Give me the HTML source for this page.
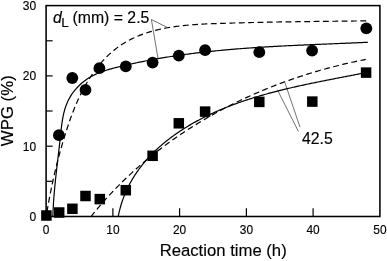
<!DOCTYPE html>
<html><head><meta charset="utf-8"><style>
html,body{margin:0;padding:0;background:#fff;}
svg{display:block;font-family:"Liberation Sans",sans-serif;}
text{stroke:#000;stroke-width:0.15px;}
</style></head><body>
<svg width="387" height="261" viewBox="0 0 387 261">
<rect width="387" height="261" fill="#fff"/>
<rect x="46.1" y="5.6" width="333.8" height="210.9" fill="none" stroke="#000" stroke-width="1.55"/>
<line x1="112.9" y1="216.5" x2="112.9" y2="208.3" stroke="#000" stroke-width="1.2"/>
<line x1="179.6" y1="216.5" x2="179.6" y2="208.3" stroke="#000" stroke-width="1.2"/>
<line x1="246.4" y1="216.5" x2="246.4" y2="208.3" stroke="#000" stroke-width="1.2"/>
<line x1="313.1" y1="216.5" x2="313.1" y2="208.3" stroke="#000" stroke-width="1.2"/>
<line x1="46.1" y1="181.3" x2="52.6" y2="181.3" stroke="#000" stroke-width="1.2"/>
<line x1="46.1" y1="146.2" x2="52.6" y2="146.2" stroke="#000" stroke-width="1.2"/>
<line x1="46.1" y1="111.0" x2="52.6" y2="111.0" stroke="#000" stroke-width="1.2"/>
<line x1="46.1" y1="75.9" x2="52.6" y2="75.9" stroke="#000" stroke-width="1.2"/>
<line x1="46.1" y1="40.8" x2="52.6" y2="40.8" stroke="#000" stroke-width="1.2"/>
<g style="will-change:transform;filter:grayscale(1)">
<text x="46.1" y="234.3" font-size="11.9" text-anchor="middle">0</text>
<text x="112.9" y="234.3" font-size="11.9" text-anchor="middle">10</text>
<text x="179.6" y="234.3" font-size="11.9" text-anchor="middle">20</text>
<text x="246.4" y="234.3" font-size="11.9" text-anchor="middle">30</text>
<text x="313.1" y="234.3" font-size="11.9" text-anchor="middle">40</text>
<text x="379.9" y="234.3" font-size="11.9" text-anchor="middle">50</text>
<text x="36.2" y="220.5" font-size="12" text-anchor="end">0</text>
<text x="36.2" y="150.5" font-size="12" text-anchor="end">10</text>
<text x="36.2" y="80.2" font-size="12" text-anchor="end">20</text>
<text x="36.2" y="9.9" font-size="12" text-anchor="end">30</text>
<text x="223.2" y="255.8" font-size="16.7" text-anchor="middle">Reaction time (h)</text>
<text transform="translate(12.9,110.7) rotate(-90) scale(1,0.96)" font-size="16.8" text-anchor="middle">WPG (%)</text>
</g>
<path d="M52.82,216.52 L52.88,215.03 L52.93,213.56 L52.99,212.08 L53.06,210.61 L53.13,209.15 L53.21,207.69 L53.29,206.23 L53.38,204.78 L53.47,203.32 L53.56,201.88 L53.66,200.43 L53.76,198.99 L53.87,197.55 L53.98,196.12 L54.10,194.68 L54.22,193.25 L54.34,191.82 L54.47,190.39 L54.60,188.97 L54.73,187.54 L54.87,186.12 L55.00,184.70 L55.14,183.28 L55.29,181.86 L55.43,180.45 L55.58,179.03 L55.73,177.61 L55.89,176.20 L56.04,174.78 L56.20,173.37 L56.35,171.95 L56.51,170.54 L56.67,169.12 L56.84,167.71 L57.00,166.29 L57.16,164.88 L57.33,163.46 L57.49,162.04 L57.66,160.62 L57.83,159.20 L57.99,157.78 L58.16,156.36 L58.33,154.93 L58.49,153.50 L58.66,152.07 L58.83,150.64 L58.99,149.21 L59.16,147.77 L59.32,146.34 L59.48,144.89 L59.65,143.45 L59.81,142.00 L59.97,140.55 L60.13,139.10 L60.28,137.64 L60.44,136.18 L60.59,134.72 L60.75,133.25 L60.90,131.78 L61.07,130.31 L61.23,128.85 L61.41,127.38 L61.59,125.91 L61.78,124.45 L61.98,122.99 L62.20,121.54 L62.43,120.09 L62.67,118.65 L62.94,117.21 L63.22,115.78 L63.53,114.36 L63.85,112.96 L64.20,111.56 L64.58,110.17 L64.98,108.79 L65.41,107.43 L65.87,106.08 L66.36,104.75 L66.89,103.43 L67.45,102.13 L68.04,100.84 L68.67,99.58 L69.34,98.33 L70.04,97.10 L70.77,95.89 L71.53,94.70 L72.33,93.53 L73.15,92.38 L74.01,91.25 L74.90,90.14 L75.81,89.06 L76.75,88.00 L77.72,86.97 L78.72,85.95 L79.74,84.97 L80.78,84.01 L81.85,83.07 L82.94,82.16 L84.05,81.28 L85.19,80.43 L86.35,79.60 L87.52,78.80 L88.72,78.03 L89.93,77.29 L91.16,76.58 L92.41,75.90 L93.67,75.25 L94.95,74.63 L96.24,74.03 L97.55,73.45 L98.87,72.90 L100.20,72.37 L101.55,71.87 L102.90,71.38 L104.26,70.91 L105.64,70.46 L107.02,70.02 L108.40,69.60 L109.80,69.19 L111.20,68.80 L112.60,68.41 L114.01,68.04 L115.43,67.67 L116.84,67.31 L118.26,66.96 L119.68,66.62 L121.10,66.27 L122.52,65.94 L123.94,65.60 L125.36,65.27 L126.78,64.95 L128.20,64.62 L129.62,64.30 L131.04,63.99 L132.46,63.67 L133.88,63.37 L135.31,63.06 L136.73,62.76 L138.15,62.46 L139.57,62.17 L140.99,61.88 L142.42,61.59 L143.84,61.31 L145.26,61.03 L146.69,60.75 L148.11,60.47 L149.53,60.20 L150.96,59.94 L152.38,59.67 L153.81,59.41 L155.23,59.15 L156.66,58.90 L158.08,58.65 L159.51,58.40 L160.93,58.16 L162.36,57.91 L163.78,57.68 L165.21,57.44 L166.64,57.21 L168.06,56.98 L169.49,56.75 L170.92,56.53 L172.34,56.31 L173.77,56.09 L175.20,55.87 L176.63,55.66 L178.05,55.45 L179.48,55.25 L180.91,55.04 L182.34,54.84 L183.77,54.64 L185.20,54.45 L186.63,54.25 L188.06,54.06 L189.49,53.87 L190.92,53.69 L192.35,53.51 L193.78,53.33 L195.21,53.15 L196.64,52.97 L198.07,52.80 L199.50,52.63 L200.93,52.46 L202.36,52.30 L203.79,52.13 L205.22,51.97 L206.66,51.81 L208.09,51.66 L209.52,51.50 L210.95,51.35 L212.38,51.20 L213.82,51.05 L215.25,50.91 L216.68,50.76 L218.12,50.62 L219.55,50.48 L220.98,50.35 L222.42,50.21 L223.85,50.08 L225.29,49.95 L226.72,49.82 L228.15,49.69 L229.59,49.56 L231.02,49.44 L232.46,49.32 L233.89,49.20 L235.33,49.08 L236.76,48.96 L238.20,48.85 L239.64,48.73 L241.07,48.62 L242.51,48.51 L243.94,48.40 L245.38,48.30 L246.82,48.19 L248.25,48.09 L249.69,47.99 L251.13,47.89 L252.56,47.79 L254.00,47.69 L255.44,47.59 L256.88,47.50 L258.31,47.40 L259.75,47.31 L261.19,47.22 L262.63,47.13 L264.07,47.04 L265.51,46.95 L266.94,46.87 L268.38,46.78 L269.82,46.70 L271.26,46.62 L272.70,46.53 L274.14,46.45 L275.58,46.38 L277.02,46.30 L278.46,46.22 L279.90,46.14 L281.34,46.07 L282.78,45.99 L284.22,45.92 L285.66,45.85 L287.10,45.77 L288.54,45.70 L289.98,45.63 L291.42,45.56 L292.86,45.49 L294.31,45.43 L295.75,45.36 L297.19,45.29 L298.63,45.22 L300.07,45.16 L301.51,45.09 L302.96,45.03 L304.40,44.96 L305.84,44.90 L307.28,44.84 L308.73,44.78 L310.17,44.71 L311.61,44.65 L313.05,44.59 L314.50,44.53 L315.94,44.47 L317.38,44.41 L318.83,44.35 L320.27,44.29 L321.71,44.23 L323.16,44.17 L324.60,44.11 L326.04,44.05 L327.49,43.99 L328.93,43.93 L330.38,43.87 L331.82,43.81 L333.27,43.75 L334.71,43.69 L336.15,43.64 L337.60,43.58 L339.04,43.52 L340.49,43.46 L341.93,43.40 L343.38,43.34 L344.82,43.28 L346.27,43.22 L347.72,43.16 L349.16,43.10 L350.61,43.04 L352.05,42.97 L353.50,42.91 L354.94,42.85 L356.39,42.79 L357.84,42.72 L359.28,42.66 L360.73,42.60 L362.17,42.53 L363.62,42.47 L365.07,42.40 L366.51,42.34 L367.96,42.27" fill="none" stroke="#000" stroke-width="1.2"/>
<path d="M46.48,214.97 L46.72,213.52 L46.95,212.06 L47.19,210.61 L47.43,209.16 L47.68,207.71 L47.93,206.27 L48.18,204.82 L48.44,203.37 L48.70,201.92 L48.96,200.48 L49.23,199.04 L49.50,197.59 L49.78,196.15 L50.05,194.71 L50.34,193.27 L50.62,191.83 L50.91,190.39 L51.20,188.95 L51.50,187.52 L51.80,186.08 L52.10,184.65 L52.41,183.21 L52.72,181.78 L53.03,180.35 L53.35,178.92 L53.67,177.49 L53.99,176.06 L54.32,174.63 L54.65,173.20 L54.99,171.78 L55.33,170.35 L55.67,168.93 L56.02,167.50 L56.37,166.08 L56.72,164.66 L57.08,163.24 L57.44,161.82 L57.81,160.40 L58.18,158.98 L58.55,157.56 L58.92,156.15 L59.31,154.73 L59.69,153.32 L60.08,151.90 L60.47,150.49 L60.86,149.08 L61.26,147.67 L61.67,146.26 L62.07,144.85 L62.48,143.44 L62.90,142.04 L63.32,140.63 L63.74,139.23 L64.16,137.82 L64.59,136.42 L65.03,135.02 L65.46,133.62 L65.90,132.22 L66.35,130.82 L66.80,129.42 L67.26,128.02 L67.72,126.63 L68.18,125.23 L68.65,123.84 L69.13,122.45 L69.61,121.07 L70.10,119.68 L70.59,118.30 L71.09,116.92 L71.60,115.54 L72.11,114.16 L72.64,112.79 L73.17,111.42 L73.70,110.05 L74.25,108.69 L74.80,107.33 L75.36,105.97 L75.93,104.62 L76.51,103.27 L77.10,101.92 L77.70,100.58 L78.30,99.24 L78.92,97.91 L79.55,96.58 L80.18,95.25 L80.83,93.93 L81.49,92.61 L82.16,91.30 L82.84,89.99 L83.53,88.69 L84.23,87.39 L84.95,86.10 L85.67,84.82 L86.41,83.54 L87.16,82.26 L87.93,80.99 L88.70,79.73 L89.49,78.47 L90.30,77.22 L91.11,75.98 L91.94,74.74 L92.79,73.51 L93.64,72.30 L94.51,71.09 L95.39,69.89 L96.29,68.70 L97.20,67.52 L98.12,66.35 L99.06,65.20 L100.01,64.06 L100.97,62.93 L101.94,61.81 L102.93,60.71 L103.94,59.62 L104.95,58.55 L105.98,57.50 L107.03,56.46 L108.08,55.43 L109.15,54.42 L110.24,53.44 L111.34,52.46 L112.45,51.51 L113.57,50.58 L114.71,49.66 L115.86,48.77 L117.02,47.89 L118.20,47.03 L119.38,46.19 L120.57,45.38 L121.78,44.58 L123.00,43.80 L124.22,43.04 L125.45,42.31 L126.70,41.59 L127.95,40.89 L129.21,40.21 L130.49,39.55 L131.77,38.91 L133.05,38.29 L134.35,37.68 L135.66,37.09 L136.97,36.52 L138.29,35.97 L139.62,35.43 L140.95,34.91 L142.30,34.40 L143.65,33.91 L145.01,33.44 L146.37,32.98 L147.74,32.54 L149.12,32.11 L150.50,31.70 L151.89,31.30 L153.29,30.92 L154.69,30.54 L156.10,30.19 L157.51,29.84 L158.93,29.51 L160.36,29.19 L161.78,28.88 L163.22,28.59 L164.66,28.30 L166.10,28.03 L167.55,27.77 L169.00,27.52 L170.45,27.28 L171.91,27.05 L173.37,26.83 L174.84,26.62 L176.31,26.42 L177.78,26.23 L179.26,26.04 L180.74,25.87 L182.22,25.71 L183.70,25.55 L185.19,25.40 L186.67,25.26 L188.16,25.12 L189.65,24.99 L191.15,24.87 L192.64,24.75 L194.14,24.64 L195.63,24.54 L197.13,24.44 L198.63,24.35 L200.13,24.26 L201.63,24.18 L203.13,24.10 L204.63,24.02 L206.13,23.95 L207.63,23.88 L209.12,23.82 L210.62,23.76 L212.12,23.70 L213.62,23.64 L215.11,23.59 L216.61,23.54 L218.10,23.48 L219.59,23.43 L221.08,23.38 L222.57,23.34 L224.05,23.29 L225.53,23.24 L227.02,23.20 L228.50,23.15 L229.98,23.11 L231.45,23.06 L232.93,23.02 L234.40,22.98 L235.87,22.94 L237.35,22.90 L238.82,22.86 L240.28,22.82 L241.75,22.78 L243.22,22.74 L244.68,22.70 L246.14,22.67 L247.61,22.63 L249.07,22.59 L250.53,22.56 L251.99,22.52 L253.44,22.49 L254.90,22.46 L256.36,22.43 L257.81,22.39 L259.27,22.36 L260.72,22.33 L262.17,22.30 L263.63,22.27 L265.08,22.24 L266.53,22.21 L267.98,22.18 L269.43,22.16 L270.88,22.13 L272.33,22.10 L273.78,22.08 L275.23,22.05 L276.68,22.02 L278.12,22.00 L279.57,21.97 L281.02,21.95 L282.47,21.93 L283.91,21.90 L285.36,21.88 L286.81,21.86 L288.26,21.83 L289.70,21.81 L291.15,21.79 L292.60,21.77 L294.05,21.75 L295.50,21.73 L296.95,21.71 L298.40,21.69 L299.85,21.67 L301.30,21.65 L302.75,21.63 L304.20,21.61 L305.65,21.59 L307.10,21.57 L308.56,21.55 L310.01,21.53 L311.46,21.51 L312.92,21.50 L314.38,21.48 L315.83,21.46 L317.29,21.44 L318.75,21.42 L320.21,21.41 L321.67,21.39 L323.13,21.37 L324.60,21.36 L326.06,21.34 L327.53,21.32 L328.99,21.31 L330.46,21.29 L331.93,21.27 L333.40,21.26 L334.87,21.24 L336.35,21.22 L337.82,21.21 L339.30,21.19 L340.78,21.17 L342.26,21.16 L343.74,21.14 L345.22,21.12 L346.71,21.11 L348.20,21.09 L349.69,21.07 L351.18,21.06 L352.67,21.04 L354.16,21.02 L355.66,21.01 L357.16,20.99 L358.66,20.97 L360.17,20.95 L361.67,20.94 L363.18,20.92 L364.69,20.90 L366.20,20.88" fill="none" stroke="#000" stroke-width="1.2" stroke-dasharray="5.85,3.5" stroke-dashoffset="6.18"/>
<path d="M118.25,216.37 L118.46,215.31 L118.68,214.26 L118.91,213.21 L119.14,212.16 L119.39,211.12 L119.64,210.09 L119.90,209.06 L120.17,208.04 L120.45,207.02 L120.74,206.01 L121.03,205.01 L121.34,204.00 L121.65,203.01 L121.97,202.02 L122.30,201.03 L122.64,200.05 L122.99,199.08 L123.34,198.11 L123.70,197.14 L124.07,196.18 L124.45,195.23 L124.84,194.28 L125.23,193.34 L125.63,192.40 L126.04,191.46 L126.46,190.53 L126.88,189.61 L127.32,188.69 L127.76,187.78 L128.20,186.87 L128.66,185.97 L129.12,185.07 L129.59,184.18 L130.06,183.29 L130.54,182.40 L131.03,181.53 L131.53,180.65 L132.04,179.78 L132.55,178.92 L133.06,178.06 L133.59,177.21 L134.12,176.36 L134.66,175.51 L135.20,174.68 L135.75,173.84 L136.31,173.01 L136.87,172.19 L137.44,171.37 L138.02,170.55 L138.60,169.74 L139.19,168.94 L139.79,168.13 L140.39,167.34 L140.99,166.55 L141.61,165.76 L142.23,164.98 L142.85,164.20 L143.48,163.43 L144.12,162.66 L144.76,161.90 L145.41,161.14 L146.06,160.39 L146.72,159.64 L147.38,158.89 L148.05,158.15 L148.73,157.42 L149.41,156.68 L150.09,155.96 L150.78,155.24 L151.48,154.52 L152.18,153.80 L152.88,153.10 L153.59,152.39 L154.31,151.69 L155.03,151.00 L155.76,150.31 L156.48,149.62 L157.22,148.94 L157.96,148.26 L158.70,147.59 L159.45,146.92 L160.20,146.25 L160.96,145.59 L161.72,144.94 L162.48,144.29 L163.25,143.64 L164.03,143.00 L164.80,142.36 L165.58,141.73 L166.37,141.09 L167.16,140.47 L167.95,139.85 L168.75,139.23 L169.55,138.62 L170.35,138.01 L171.16,137.40 L171.97,136.80 L172.79,136.21 L173.61,135.61 L174.43,135.03 L175.25,134.44 L176.08,133.86 L176.91,133.29 L177.75,132.71 L178.58,132.15 L179.42,131.58 L180.27,131.02 L181.11,130.47 L181.96,129.91 L182.82,129.37 L183.67,128.82 L184.53,128.28 L185.39,127.75 L186.25,127.22 L187.12,126.69 L187.98,126.16 L188.85,125.64 L189.73,125.13 L190.60,124.61 L191.48,124.10 L192.36,123.60 L193.24,123.10 L194.12,122.60 L195.01,122.11 L195.89,121.62 L196.78,121.13 L197.67,120.65 L198.57,120.17 L199.46,119.70 L200.36,119.23 L201.26,118.76 L202.16,118.30 L203.06,117.84 L203.96,117.38 L204.87,116.93 L205.77,116.48 L206.68,116.03 L207.59,115.59 L208.50,115.15 L209.42,114.71 L210.33,114.28 L211.25,113.85 L212.17,113.43 L213.09,113.01 L214.01,112.59 L214.93,112.17 L215.85,111.76 L216.78,111.35 L217.71,110.95 L218.64,110.54 L219.57,110.14 L220.50,109.75 L221.43,109.36 L222.37,108.97 L223.30,108.58 L224.24,108.20 L225.18,107.81 L226.12,107.44 L227.06,107.06 L228.00,106.69 L228.95,106.32 L229.89,105.96 L230.84,105.59 L231.78,105.23 L232.73,104.88 L233.68,104.52 L234.63,104.17 L235.59,103.82 L236.54,103.48 L237.49,103.13 L238.45,102.79 L239.41,102.45 L240.36,102.12 L241.32,101.79 L242.28,101.46 L243.24,101.13 L244.21,100.80 L245.17,100.48 L246.13,100.16 L247.10,99.84 L248.06,99.53 L249.03,99.22 L250.00,98.91 L250.97,98.60 L251.94,98.29 L252.91,97.99 L253.88,97.69 L254.85,97.39 L255.82,97.09 L256.80,96.80 L257.77,96.51 L258.75,96.22 L259.72,95.93 L260.70,95.65 L261.68,95.36 L262.65,95.08 L263.63,94.80 L264.61,94.53 L265.59,94.25 L266.57,93.98 L267.55,93.71 L268.54,93.44 L269.52,93.17 L270.50,92.91 L271.49,92.65 L272.47,92.39 L273.45,92.13 L274.44,91.87 L275.42,91.61 L276.41,91.36 L277.40,91.11 L278.38,90.86 L279.37,90.61 L280.36,90.36 L281.35,90.12 L282.34,89.87 L283.32,89.63 L284.31,89.39 L285.30,89.15 L286.29,88.91 L287.28,88.68 L288.27,88.44 L289.26,88.21 L290.25,87.98 L291.24,87.75 L292.24,87.52 L293.23,87.29 L294.22,87.06 L295.21,86.84 L296.20,86.62 L297.19,86.39 L298.18,86.17 L299.18,85.95 L300.17,85.73 L301.16,85.52 L302.15,85.30 L303.14,85.09 L304.14,84.87 L305.13,84.66 L306.12,84.45 L307.11,84.24 L308.10,84.03 L309.10,83.82 L310.09,83.61 L311.08,83.40 L312.07,83.20 L313.06,82.99 L314.05,82.79 L315.04,82.58 L316.03,82.38 L317.02,82.18 L318.02,81.98 L319.00,81.78 L319.99,81.58 L320.98,81.38 L321.97,81.18 L322.96,80.98 L323.95,80.79 L324.94,80.59 L325.93,80.39 L326.91,80.20 L327.90,80.00 L328.89,79.81 L329.87,79.62 L330.86,79.42 L331.84,79.23 L332.83,79.04 L333.81,78.85 L334.79,78.65 L335.78,78.46 L336.76,78.27 L337.74,78.08 L338.72,77.89 L339.70,77.70 L340.68,77.51 L341.66,77.32 L342.64,77.13 L343.62,76.94 L344.59,76.75 L345.57,76.56 L346.55,76.37 L347.52,76.19 L348.50,76.00 L349.47,75.81 L350.44,75.62 L351.41,75.43 L352.38,75.24 L353.36,75.05 L354.32,74.86 L355.29,74.67 L356.26,74.48 L357.23,74.29 L358.19,74.10 L359.16,73.91 L360.12,73.72 L361.08,73.53 L362.05,73.34 L363.01,73.15 L363.97,72.96" fill="none" stroke="#000" stroke-width="1.2"/>
<path d="M91.45,216.02 L92.13,215.17 L92.81,214.32 L93.49,213.48 L94.18,212.64 L94.87,211.80 L95.56,210.96 L96.25,210.12 L96.95,209.29 L97.65,208.46 L98.35,207.63 L99.05,206.80 L99.75,205.98 L100.46,205.16 L101.17,204.34 L101.88,203.52 L102.59,202.70 L103.31,201.89 L104.02,201.08 L104.74,200.27 L105.47,199.46 L106.19,198.66 L106.92,197.86 L107.64,197.06 L108.37,196.26 L109.11,195.46 L109.84,194.67 L110.58,193.88 L111.32,193.09 L112.06,192.30 L112.80,191.52 L113.55,190.74 L114.29,189.96 L115.04,189.18 L115.80,188.40 L116.55,187.63 L117.30,186.86 L118.06,186.09 L118.82,185.32 L119.58,184.56 L120.35,183.80 L121.11,183.04 L121.88,182.28 L122.65,181.52 L123.42,180.77 L124.20,180.02 L124.97,179.27 L125.75,178.52 L126.53,177.78 L127.31,177.04 L128.09,176.30 L128.88,175.56 L129.67,174.82 L130.46,174.09 L131.25,173.36 L132.04,172.63 L132.84,171.90 L133.63,171.18 L134.43,170.45 L135.23,169.73 L136.04,169.02 L136.84,168.30 L137.65,167.59 L138.45,166.87 L139.26,166.17 L140.08,165.46 L140.89,164.75 L141.71,164.05 L142.52,163.35 L143.34,162.65 L144.16,161.96 L144.99,161.26 L145.81,160.57 L146.64,159.88 L147.47,159.19 L148.30,158.51 L149.13,157.82 L149.96,157.14 L150.80,156.47 L151.64,155.79 L152.47,155.12 L153.32,154.44 L154.16,153.77 L155.00,153.11 L155.85,152.44 L156.69,151.78 L157.54,151.12 L158.40,150.46 L159.25,149.80 L160.10,149.15 L160.96,148.49 L161.82,147.84 L162.67,147.20 L163.54,146.55 L164.40,145.91 L165.26,145.27 L166.13,144.63 L167.00,143.99 L167.87,143.35 L168.74,142.72 L169.61,142.09 L170.48,141.46 L171.36,140.84 L172.23,140.21 L173.11,139.59 L173.99,138.97 L174.88,138.36 L175.76,137.74 L176.64,137.13 L177.53,136.52 L178.42,135.91 L179.31,135.30 L180.20,134.70 L181.09,134.10 L181.99,133.50 L182.88,132.90 L183.78,132.30 L184.68,131.71 L185.58,131.12 L186.48,130.53 L187.38,129.94 L188.28,129.36 L189.19,128.77 L190.10,128.19 L191.01,127.62 L191.92,127.04 L192.83,126.47 L193.74,125.89 L194.66,125.32 L195.57,124.76 L196.49,124.19 L197.41,123.63 L198.33,123.07 L199.25,122.51 L200.17,121.95 L201.09,121.40 L202.02,120.85 L202.95,120.30 L203.87,119.75 L204.80,119.20 L205.73,118.66 L206.67,118.12 L207.60,117.58 L208.53,117.04 L209.47,116.51 L210.41,115.98 L211.35,115.44 L212.29,114.92 L213.23,114.39 L214.17,113.87 L215.11,113.34 L216.06,112.82 L217.00,112.31 L217.95,111.79 L218.90,111.28 L219.85,110.77 L220.80,110.26 L221.75,109.75 L222.71,109.25 L223.66,108.74 L224.62,108.24 L225.57,107.75 L226.53,107.25 L227.49,106.76 L228.45,106.26 L229.41,105.78 L230.37,105.29 L231.34,104.80 L232.30,104.32 L233.27,103.84 L234.24,103.36 L235.20,102.88 L236.17,102.41 L237.14,101.94 L238.11,101.47 L239.09,101.00 L240.06,100.53 L241.04,100.07 L242.01,99.61 L242.99,99.15 L243.97,98.69 L244.94,98.23 L245.92,97.78 L246.91,97.33 L247.89,96.88 L248.87,96.44 L249.85,95.99 L250.84,95.55 L251.83,95.11 L252.81,94.67 L253.80,94.23 L254.79,93.80 L255.78,93.37 L256.77,92.94 L257.76,92.51 L258.75,92.09 L259.75,91.66 L260.74,91.24 L261.74,90.82 L262.73,90.41 L263.73,89.99 L264.73,89.58 L265.73,89.17 L266.73,88.76 L267.73,88.36 L268.73,87.95 L269.73,87.55 L270.74,87.15 L271.74,86.75 L272.74,86.36 L273.75,85.96 L274.76,85.57 L275.76,85.18 L276.77,84.80 L277.78,84.41 L278.79,84.03 L279.80,83.65 L280.81,83.27 L281.83,82.89 L282.84,82.52 L283.85,82.15 L284.87,81.78 L285.88,81.41 L286.90,81.04 L287.91,80.68 L288.93,80.32 L289.95,79.96 L290.97,79.60 L291.99,79.25 L293.01,78.90 L294.03,78.54 L295.05,78.20 L296.07,77.85 L297.10,77.50 L298.12,77.16 L299.14,76.82 L300.17,76.48 L301.19,76.15 L302.22,75.81 L303.25,75.48 L304.28,75.15 L305.30,74.83 L306.33,74.50 L307.36,74.18 L308.39,73.86 L309.42,73.54 L310.45,73.22 L311.48,72.90 L312.52,72.59 L313.55,72.28 L314.58,71.97 L315.62,71.67 L316.65,71.36 L317.69,71.06 L318.72,70.76 L319.76,70.46 L320.79,70.17 L321.83,69.87 L322.87,69.58 L323.91,69.29 L324.94,69.00 L325.98,68.72 L327.02,68.43 L328.06,68.15 L329.10,67.87 L330.14,67.60 L331.18,67.32 L332.22,67.05 L333.27,66.78 L334.31,66.51 L335.35,66.24 L336.40,65.98 L337.44,65.72 L338.48,65.46 L339.53,65.20 L340.57,64.94 L341.62,64.69 L342.66,64.44 L343.71,64.19 L344.75,63.94 L345.80,63.69 L346.85,63.45 L347.89,63.21 L348.94,62.97 L349.99,62.73 L351.04,62.50 L352.09,62.27 L353.14,62.03 L354.18,61.81 L355.23,61.58 L356.28,61.35 L357.33,61.13 L358.38,60.91 L359.43,60.69 L360.48,60.48 L361.53,60.26 L362.58,60.05 L363.64,59.84 L364.69,59.63 L365.74,59.43" fill="none" stroke="#000" stroke-width="1.2" stroke-dasharray="5.85,3.5" stroke-dashoffset="0.84"/>
<circle cx="58.9" cy="135.2" r="5.9" fill="#000"/>
<circle cx="72.3" cy="78.0" r="5.9" fill="#000"/>
<circle cx="85.5" cy="89.9" r="5.9" fill="#000"/>
<circle cx="99.4" cy="68.2" r="5.9" fill="#000"/>
<circle cx="125.8" cy="66.4" r="5.9" fill="#000"/>
<circle cx="152.6" cy="62.6" r="5.9" fill="#000"/>
<circle cx="178.8" cy="55.6" r="5.9" fill="#000"/>
<circle cx="205.1" cy="50.2" r="5.9" fill="#000"/>
<circle cx="259.3" cy="52.2" r="5.9" fill="#000"/>
<circle cx="312.1" cy="50.6" r="5.9" fill="#000"/>
<circle cx="366.3" cy="28.3" r="5.9" fill="#000"/>
<rect x="41.15" y="210.25" width="10.5" height="10.5" fill="#000"/>
<rect x="53.95" y="207.25" width="10.5" height="10.5" fill="#000"/>
<rect x="67.15" y="203.55" width="10.5" height="10.5" fill="#000"/>
<rect x="80.25" y="190.75" width="10.5" height="10.5" fill="#000"/>
<rect x="94.55" y="193.85" width="10.5" height="10.5" fill="#000"/>
<rect x="120.55" y="184.95" width="10.5" height="10.5" fill="#000"/>
<rect x="147.35" y="150.55" width="10.5" height="10.5" fill="#000"/>
<rect x="173.55" y="118.05" width="10.5" height="10.5" fill="#000"/>
<rect x="199.85" y="106.35" width="10.5" height="10.5" fill="#000"/>
<rect x="254.05" y="96.65" width="10.5" height="10.5" fill="#000"/>
<rect x="307.05" y="96.35" width="10.5" height="10.5" fill="#000"/>
<rect x="360.85" y="67.35" width="10.5" height="10.5" fill="#000"/>
<g style="will-change:transform;filter:grayscale(1)">
<text x="52.9" y="22.5" font-size="15.8"><tspan font-style="italic">d</tspan><tspan font-size="13.5" dy="4.6" dx="-0.4">L</tspan><tspan dy="-4.6" dx="-0.7"> (mm) = 2.5</tspan></text>
<text x="302" y="144" font-size="15.8">42.5</text>
</g>
<path d="M151.4,19.5 L167.2,27.4 M151.4,19.5 L157.9,57.9" stroke="#111" stroke-width="0.6" fill="none"/>
<path d="M298.4,131.4 L277.4,89.8 M300,127.2 L284.9,82.6" stroke="#111" stroke-width="0.6" fill="none"/>
</svg></body></html>
